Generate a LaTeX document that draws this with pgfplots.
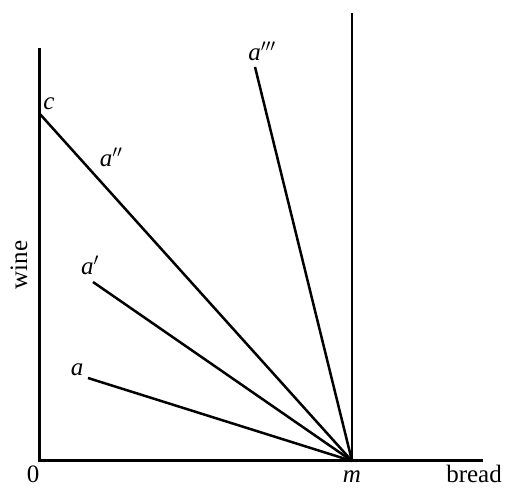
\documentclass[border=0pt]{standalone}
\usepackage{pgfplots}
\pgfplotsset{compat=1.18}
\usepackage{fontspec}
\setmainfont{Liberation Serif}

\tikzset{lbl/.style={font=\fontsize{25}{27}\selectfont, inner sep=0pt}}

\begin{document}
\begin{tikzpicture}
\begin{axis}[
    x=1pt, y=1pt,
    hide axis,
    clip=false,
    xmin=-39, xmax=466,
    ymin=-27, ymax=461,
]
% frame of the page (invisible)
\addplot[draw=none] coordinates {(-39,-28) (466,461)};

% axes
\addplot[black, line width=3pt] coordinates {(0,413) (0,0) (444,0)};
% vertical line at m
\addplot[black, line width=2.8pt] coordinates {(313,0) (313,448)};

% budget lines through m
\addplot[black, line width=2.5pt] coordinates {(0,348) (313,0)};
\addplot[black, line width=2.5pt] coordinates {(54,179) (313,0)};
\addplot[black, line width=2.5pt] coordinates {(49,83) (313,0)};
\addplot[black, line width=2.5pt] coordinates {(216,394) (313,0)};

% labels
\node[lbl] at (axis cs:10,357) {\textit{c}};
\node[lbl] at (axis cs:72,304) {\textit{a}$''$};
\node[lbl] at (axis cs:51,196) {\textit{a}$'$};
\node[lbl] at (axis cs:38,91) {\textit{a}};
\node[lbl] at (axis cs:223,410) {\textit{a}$'''$};
\node[lbl, anchor=base] at (axis cs:-6,-22) {0};
\node[lbl, anchor=base] at (axis cs:313,-22) {\textit{m}};
\node[lbl, anchor=base] at (axis cs:435,-22) {bread};
\node[lbl, rotate=90] at (axis cs:-20,196) {wine};
\end{axis}
\end{tikzpicture}
\end{document}
